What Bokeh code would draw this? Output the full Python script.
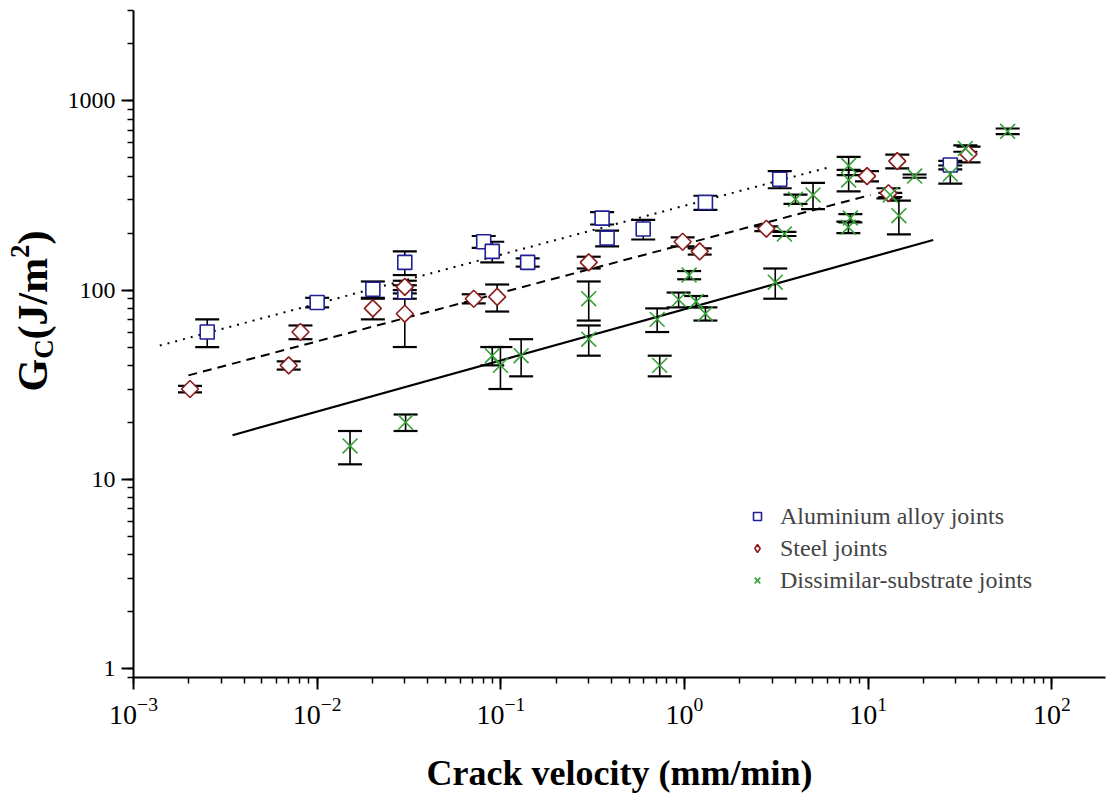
import numpy as np
from bokeh.plotting import figure
from bokeh.layouts import row
from bokeh.models import (ColumnDataSource, Whisker, TeeHead, Legend, LegendItem,
                          CustomJSTickFormatter, Range1d)
from bokeh.core.properties import value
from bokeh.embed import file_html
from bokeh.resources import INLINE

# Aluminium alloy joints: crack velocity (mm/min), Gc (J/m^2), error
al_v = [0.00252, 0.0100, 0.0201, 0.030, 0.030, 0.0807, 0.0898, 0.140, 0.356, 0.379, 0.596, 1.30, 3.30, 28.0]
al_g = [60, 86, 101, 140, 98, 180, 160, 140, 240, 188, 210, 290, 385, 458]
al_e = [10, 5, 10, 20, 8, 13, 20, 7, 18, 18, 25, 25, 40, 24]

# Steel joints
st_v = [0.00203, 0.0070, 0.00811, 0.0201, 0.030, 0.030, 0.0712, 0.0955, 0.301, 0.977, 1.21, 2.79, 9.86, 12.9, 14.4, 35.2]
st_g = [30, 40, 60, 80, 104, 75, 90, 92, 140, 180, 160, 211, 400, 325, 480, 523]
st_e = [1.2, 2, 5, 10, 8, 25, 5, 15, 10, 10, 6, 6, 25, 20, 40, 50]

# Dissimilar-substrate joints
ds_v = [0.0151, 0.0303, 0.0898, 0.0995, 0.129, 0.301, 0.301, 0.71, 0.733, 0.929, 1.06, 1.157, 1.30,
        3.12, 3.50, 4.02, 5.01, 7.83, 7.83, 8.0, 7.8, 13.2, 14.7, 17.9, 28.0, 33.8, 57.5]
ds_g = [15, 20, 45, 40, 45, 90, 55, 70, 40, 89, 120, 87, 75,
        110, 198, 302, 318, 455, 382, 240, 215, 318, 247, 400, 410, 560, 690]
ds_e = [3, 2, 5, 10, 10, 21, 10, 10, 5, 8, 6, 6, 6,
        20, 5, 17, 50, 50, 50, 12, 15, 8, 50, 8, 45, 22, 24]

# Power-law fits (straight lines on log-log axes), end points
al_fit_v = [0.00139, 6.2]
al_fit_g = [50.9, 447]
st_fit_v = [0.00199, 10.3]
st_fit_g = [35.4, 318]
ds_fit_v = [0.00346, 22.6]
ds_fit_g = [17.1, 184]

SERIF = "Liberation Serif"
AL_COLOR = "#1f1f96"
ST_COLOR = "#8b1c1c"
DS_COLOR = "#35a035"

TITLE_W = 60      # strip holding the rotated y title
H = 795
BORDER_TOP, BORDER_BOTTOM = 10, 116

p = figure(width=1106 - TITLE_W, height=H, x_axis_type="log", y_axis_type="log",
           x_range=Range1d(0.001, 196), y_range=Range1d(0.897, 3000),
           output_backend="svg", toolbar_location=None,
           min_border_left=133 - TITLE_W, min_border_right=1, min_border_top=BORDER_TOP,
           min_border_bottom=BORDER_BOTTOM)
p.outline_line_color = None
p.xgrid.visible = False
p.ygrid.visible = False
p.background_fill_color = "white"
p.border_fill_color = "white"

for ax in (p.xaxis[0], p.yaxis[0]):
    ax.axis_line_width = 2
    ax.axis_line_color = "black"
    ax.major_tick_line_width = 2
    ax.minor_tick_line_width = 1.5
    ax.major_tick_in = 0
    ax.minor_tick_in = 0
    ax.major_tick_out = 12
    ax.minor_tick_out = 6
    ax.major_label_text_font = SERIF
    ax.major_label_text_color = "black"

p.xaxis.ticker.desired_num_ticks = 6
p.xaxis.major_label_text_font_size = "28px"
p.xaxis.major_label_standoff = 8
p.xaxis.axis_label = "Crack velocity (mm/min)"
p.xaxis.axis_label_text_font = SERIF
p.xaxis.axis_label_text_font_style = "bold"
p.xaxis.axis_label_text_font_size = "36px"
p.xaxis.axis_label_text_color = "black"
p.xaxis.axis_label_standoff = 26

p.yaxis.major_label_text_font_size = "24px"
p.yaxis.major_label_standoff = 6
p.yaxis.formatter = CustomJSTickFormatter(code="return tick.toFixed(0)")

# fitted lines
p.line(al_fit_v, al_fit_g, line_color="black", line_width=2, line_dash="2 6")
p.line(st_fit_v, st_fit_g, line_color="black", line_width=2, line_dash="9 6")
p.line(ds_fit_v, ds_fit_g, line_color="black", line_width=2.2)


def add_series(v, g, e, marker, color, size, angle=0.0):
    g = np.array(g, dtype=float)
    e = np.array(e, dtype=float)
    src = ColumnDataSource(dict(v=v, g=g, lo=g - e, hi=g + e))
    stem = Whisker(source=src, base="v", upper="hi", lower="lo", dimension="height",
                   line_color="black", line_width=1.6, upper_head=None, lower_head=None,
                   level="underlay")
    p.add_layout(stem)
    r = p.scatter("v", "g", source=src, marker=marker, size=size, angle=angle,
                  line_color=color, line_width=1.6, fill_color="white")
    caps = Whisker(source=src, base="v", upper="hi", lower="lo", dimension="height",
                   line_alpha=0,
                   upper_head=TeeHead(size=24, line_width=2.2, line_color="black"),
                   lower_head=TeeHead(size=24, line_width=2.2, line_color="black"))
    p.add_layout(caps)
    return r, src


r_al, _ = add_series(al_v, al_g, al_e, "square", AL_COLOR, 14)
r_st, st_src = add_series(st_v, st_g, st_e, "square", ST_COLOR, 12, angle=np.pi / 4)
r_ds, _ = add_series(ds_v, ds_g, ds_e, "x", DS_COLOR, 21)
# hidden diamond renderer on the steel data, used only as the legend key
r_st_key = p.scatter("v", "g", source=st_src, marker="diamond", size=14, line_color=ST_COLOR,
                     line_width=1.6, fill_color="white", visible=False)

legend = Legend(items=[LegendItem(label="Aluminium alloy joints", renderers=[r_al]),
                       LegendItem(label="Steel joints", renderers=[r_st_key]),
                       LegendItem(label="Dissimilar-substrate joints", renderers=[r_ds])],
                location=(614, 83), padding=0, margin=0, spacing=4,
                glyph_width=20, glyph_height=28, label_height=28, label_standoff=13,
                label_text_font=SERIF, label_text_font_size="24px",
                border_line_alpha=0, background_fill_alpha=0, inactive_fill_alpha=0)
p.add_layout(legend)

# strip with the y title G_C(J/m^2), bold, reading bottom to top.
# The row aligns its frame with the main plot, so its y range spans the same
# pixel rows: data y equals the distance in px from the bottom of the page.
t = figure(width=TITLE_W, height=H, x_range=Range1d(0, TITLE_W),
           y_range=Range1d(BORDER_BOTTOM, H - BORDER_TOP),
           output_backend="svg", toolbar_location=None, min_border=0,
           x_axis_location=None, y_axis_location=None)
t.grid.visible = False
t.outline_line_color = None
t.background_fill_color = "white"
t.border_fill_color = "white"

# (text, font px, baseline x); pieces are chained upwards by their advance widths
title_parts = [("G", 42, 47), ("C", 27, 53), ("(J/m", 42, 47), ("2", 27, 29), (")", 42, 47)]
adv = {"G": 0.778, "C": 0.722, "(J/m": 1.944, "2": 0.5, ")": 0.333}
MID = 0.3375      # distance from baseline to the middle of the em box, in em
ypos = 403.0
for txt, fs, xb in title_parts:
    w = adv[txt] * fs
    t.text(x=[xb - MID * fs], y=[ypos + w / 2], text=[txt], angle=np.pi / 2,
           text_font=value(SERIF), text_font_style="bold", text_font_size=f"{fs}px",
           text_align="center", text_baseline="middle", text_color="black")
    ypos += w

layout = row(t, p, spacing=0)
open("out.html", "w").write(file_html(layout, INLINE))
